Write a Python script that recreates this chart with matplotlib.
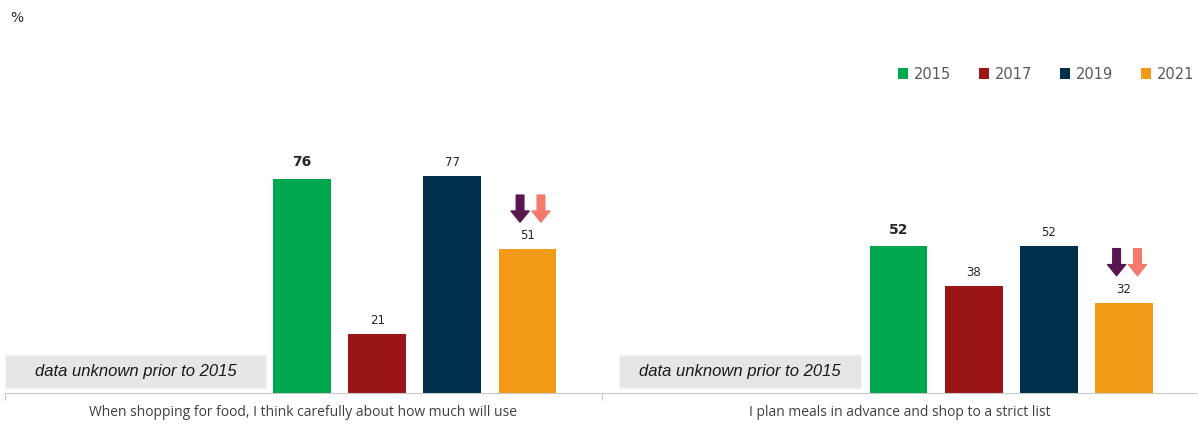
import matplotlib.pyplot as plt
from matplotlib.patches import Rectangle

# survey statements and yearly shares (%)
statements = ["When shopping for food, I think carefully about how much will use",
              "I plan meals in advance and shop to a strict list"]
years = ["2015", "2017", "2019", "2021"]
v2015 = [76, 52]
v2017 = [21, 38]
v2019 = [77, 52]
v2021 = [51, 32]
series = [v2015, v2017, v2019, v2021]

colors = ["#00a74f", "#9a1515", "#002f4b", "#f39b18"]
arrow_colors = ["#5a1650", "#f47a6c"]
bar_offsets = [0.498, 0.624, 0.750, 0.876]
bar_w = 0.097

fig = plt.figure(figsize=(11.98, 4.24), dpi=100)
ax = fig.add_axes([5 / 1198, 1 - 393 / 424, 1193 / 1198, 353 / 424])
ax.set_xlim(0, 2)
ax.set_ylim(0, 125.2)

for j, (vals, col) in enumerate(zip(series, colors)):
    xs = [g + bar_offsets[j] for g in range(len(statements))]
    ax.bar(xs, vals, width=bar_w, color=col, label=years[j], zorder=2)
    for x, v in zip(xs, vals):
        if j == 0:
            ax.annotate(str(v), (x, v), xytext=(0, 7), textcoords="offset points",
                        ha="center", va="bottom", fontsize=10, fontweight="bold",
                        color="#262626")
        else:
            ax.annotate(str(v), (x, v), xytext=(0, 5), textcoords="offset points",
                        ha="center", va="bottom", fontsize=8.5, color="#262626")

# downward arrows above the 2021 bars
for g, v in enumerate(v2021):
    xc = g + bar_offsets[3]
    for dx, col in zip([-0.0125, 0.0225], arrow_colors):
        ax.annotate("", xy=(xc + dx, v + 9.6), xytext=(xc + dx, v + 19.2),
                    arrowprops=dict(arrowstyle="simple,head_length=0.8,head_width=1.3,tail_width=0.55",
                                    color=col, shrinkA=0, shrinkB=0, mutation_scale=10))

# grey "no data" boxes on the left of each group
box_spans = [(0.0, 0.438), (0.030, 0.435)]
for g, (x0, x1) in enumerate(box_spans):
    ax.add_patch(Rectangle((g + x0, 1.8), x1 - x0, 11.8, facecolor="#e6e6e6",
                           edgecolor="#f2f2f2", lw=1, zorder=1))
    ax.text(g + (x0 + x1) / 2, 7.7, "data unknown prior to 2015", ha="center",
            va="center", fontsize=12, style="italic", color="#1a1a1a",
            fontfamily="Liberation Sans")

for s in ["top", "right", "left"]:
    ax.spines[s].set_visible(False)
ax.spines["bottom"].set_color("#c8c8c8")
ax.set_yticks([])
ax.set_xticks([0, 1, 2])
ax.set_xticklabels([])
ax.tick_params(axis="x", length=5, color="#c8c8c8")
for g, s in enumerate(statements):
    ax.text(g + 0.5, -7, s, ha="center", va="center", fontsize=10, color="#404040",
            fontfamily="Open Sans")

fig.text(10 / 1198, 1 - 18 / 424, "%", fontsize=10, color="#262626", va="center")

leg = ax.legend(loc="upper right", bbox_to_anchor=(1.008, 0.962), ncol=4, frameon=False,
                fontsize=10.5, handlelength=0.7, handleheight=0.7, handletextpad=0.4,
                columnspacing=1.9)
for t in leg.get_texts():
    t.set_color("#595959")

fig.savefig("out.png", dpi=100)
